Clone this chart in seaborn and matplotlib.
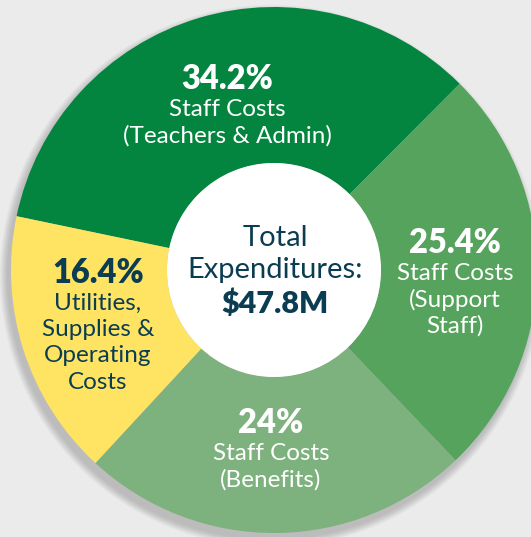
import matplotlib
matplotlib.use("Agg")
import matplotlib.pyplot as plt
import seaborn as sns
from matplotlib.patches import Circle

# data
shares = [34.2, 25.4, 24, 16.4]
pct_labels = ["34.2%", "25.4%", "24%", "16.4%"]
cat_labels = ["Staff Costs\n(Teachers & Admin)",
              "Staff Costs\n(Support\nStaff)",
              "Staff Costs\n(Benefits)",
              "Utilities,\nSupplies &\nOperating\nCosts"]
total_label = "$47.8M"

colors = ["#03853F", "#55A35D", "#7DB17D", "#FFE463"]
text_colors = ["white", "white", "white", "#0B3D52"]
navy = "#0B3D52"
bg = "#EBEBEB"

sns.set_theme(style="white")
plt.rcParams["font.family"] = ["Lato", "DejaVu Sans"]

W, H = 531, 537
fig = plt.figure(figsize=(W / 100, H / 100), dpi=100, facecolor=bg)
ax = fig.add_axes([0, 0, 1, 1])
ax.set_facecolor(bg)

cx, cy = 274, H - 270
r_out, r_in = 263, 107

# soft shadow under the donut
for i in range(10):
    ax.add_patch(Circle((cx - 3, cy - 6), r_out + 1 + i * 0.8,
                        color="black", alpha=0.018, lw=0, zorder=0))

ax.pie(shares, colors=colors, startangle=168.2, counterclock=False,
       center=(cx, cy), radius=r_out, frame=True,
       wedgeprops=dict(width=r_out - r_in, linewidth=0))
ax.add_patch(Circle((cx, cy), r_in, color="white", lw=0, zorder=5))
ax.set_xlim(0, W)
ax.set_ylim(0, H)
ax.set_aspect("equal")
ax.axis("off")

# label positions (pixels from top-left)
pct_pos = [(227, 79), (455, 243), (271, 423), (98, 273)]
line_gap = 26.5
for pct, lab, (x, y), tc in zip(pct_labels, cat_labels, pct_pos, text_colors):
    ax.text(x, H - y, pct, ha="center", va="center", fontsize=23.5,
            fontweight="heavy", color=tc, zorder=6)
    for k, line in enumerate(lab.split("\n")):
        ax.text(x, H - (y + 30 + k * line_gap), line, ha="center", va="center",
                fontsize=17.5, color=tc, zorder=6)

ax.text(275, H - 238, "Total", ha="center", va="center", fontsize=21,
        color=navy, zorder=6)
ax.text(275, H - 270, "Expenditures:", ha="center", va="center", fontsize=21,
        color=navy, zorder=6)
ax.text(275, H - 304, total_label, ha="center", va="center", fontsize=22,
        fontweight="heavy", color=navy, zorder=6)

fig.savefig("out.png", dpi=100, facecolor=bg)
